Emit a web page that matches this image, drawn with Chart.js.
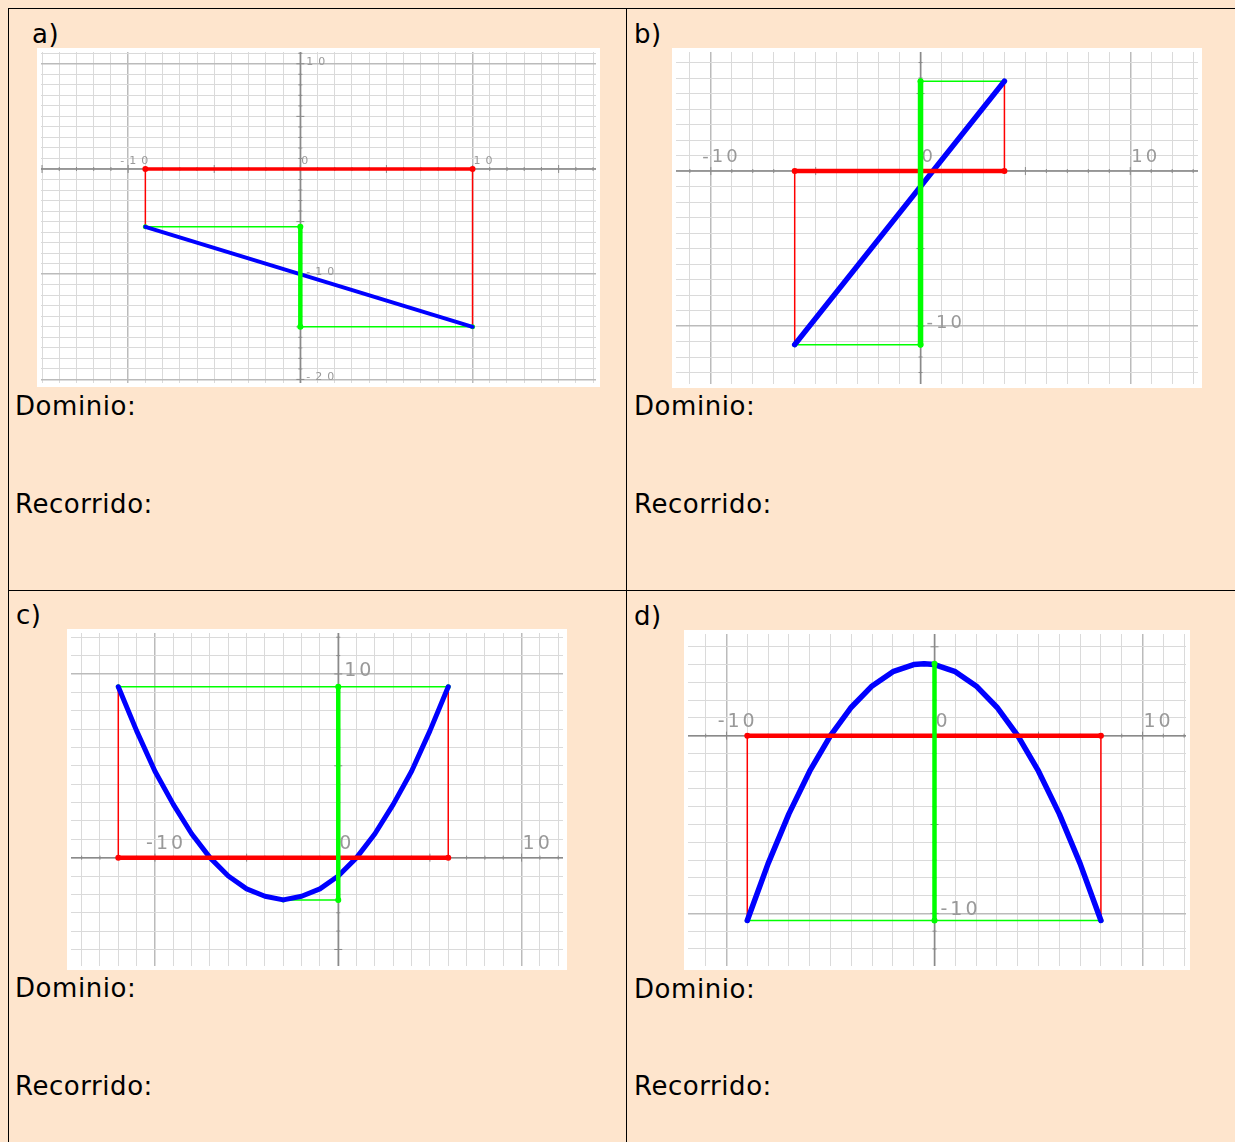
<!DOCTYPE html>
<html>
<head>
<meta charset="utf-8">
<title>Dominio y recorrido</title>
<script src="https://cdn.jsdelivr.net/npm/chart.js@4.4.1/dist/chart.umd.min.js"></script>
<style>
    html, body { margin: 0; padding: 0; }
    body {
        width: 1235px; height: 1142px; position: relative; overflow: hidden;
        background: #fee5cd; color: #000;
        font-family: "DejaVu Sans", Verdana, sans-serif;
    }
    .rule { position: absolute; background: #000; }
    .txt { position: absolute; font-size: 26px; line-height: 26px; white-space: nowrap; letter-spacing: 0.55px; }
    canvas { position: absolute; background: #fff; }
</style>
</head>
<body>
<!-- table lines -->
<div class="rule" style="left:8px;top:8px;width:1227px;height:1px"></div>
<div class="rule" style="left:8px;top:590px;width:1227px;height:1px"></div>
<div class="rule" style="left:8px;top:8px;width:1px;height:1134px"></div>
<div class="rule" style="left:626px;top:8px;width:1px;height:1134px"></div>

<div class="txt" style="left:32px;top:21px">a)</div>
<div class="txt" style="left:634px;top:21px">b)</div>
<div class="txt" style="left:16px;top:602px">c)</div>
<div class="txt" style="left:634px;top:603px">d)</div>

<div class="txt" style="left:15px;top:393px">Dominio:</div>
<div class="txt" style="left:15px;top:491px">Recorrido:</div>
<div class="txt" style="left:634px;top:393px">Dominio:</div>
<div class="txt" style="left:634px;top:491px">Recorrido:</div>
<div class="txt" style="left:15px;top:975px">Dominio:</div>
<div class="txt" style="left:15px;top:1073px">Recorrido:</div>
<div class="txt" style="left:634px;top:976px">Dominio:</div>
<div class="txt" style="left:634px;top:1073px">Recorrido:</div>

<canvas id="graf-a" width="563" height="339" style="left:37px;top:48px"></canvas>
<canvas id="graf-b" width="530" height="340" style="left:672px;top:48px"></canvas>
<canvas id="graf-c" width="500" height="341" style="left:67px;top:629px"></canvas>
<canvas id="graf-d" width="506" height="340" style="left:684px;top:630px"></canvas>

<script>
// a) recta decreciente
const aX = [-9, 10];
const aY = [-5.5, -15];
// b) recta creciente
const bX = [-6, 4];
const bY = [-11.2, 5.8];
// c) parábola abierta hacia arriba
const cX = [-12, -11, -10, -9, -8, -7, -6, -5, -4, -3, -2, -1, 0, 1, 2, 3, 4, 5, 6];
const cY = [9.3, 6.9, 4.7, 2.9, 1.3, 0, -1, -1.7, -2.1, -2.3, -2.1, -1.7, -1, 0, 1.3, 2.9, 4.7, 6.9, 9.3];
// d) parábola abierta hacia abajo
const dX = [-9, -8, -7, -6, -5, -4, -3, -2, -1, -0.5, 0, 1, 2, 3, 4, 5, 6, 7, 8];
const dY = [-10.4, -7.2, -4.4, -2, 0, 1.6, 2.8, 3.6, 4, 4.05, 4, 3.6, 2.8, 1.6, 0, -2, -4.4, -7.2, -10.4];

// numbers written on the axes
const aXLabels = [-10, 0, 10];
const aYLabels = [10, -10, -20];
const bXLabels = [-10, 0, 10];
const bYLabels = [-10];
const cXLabels = [-10, 0, 10];
const cYLabels = [10];
const dXLabels = [-10, 0, 10];
const dYLabels = [-10];

const BLUE = '#0000ff', RED = '#ff0000', GREEN = '#00ff00';

// axes, small ticks and axis numbers, drawn under the datasets
const ejesPlugin = {
    id: 'ejes',
    beforeDatasetsDraw(chart, args, opts) {
        const ctx = chart.ctx;
        const area = chart.chartArea;
        const sx = chart.scales.x, sy = chart.scales.y;
        const x0 = sx.getPixelForValue(0), y0 = sy.getPixelForValue(0);
        ctx.save();
        ctx.strokeStyle = '#8a8a8a';
        ctx.lineWidth = 1.5;
        ctx.beginPath();
        ctx.moveTo(area.left, y0); ctx.lineTo(area.right, y0);
        ctx.moveTo(x0, area.top); ctx.lineTo(x0, area.bottom);
        ctx.stroke();

        ctx.lineWidth = 1;
        ctx.beginPath();
        for (let u = Math.ceil(sx.min); u <= sx.max; u++) {
            const p = sx.getPixelForValue(u), h = u % 5 === 0 ? 4 : 2;
            ctx.moveTo(p, y0 - h); ctx.lineTo(p, y0 + h);
        }
        for (let u = Math.ceil(sy.min); u <= sy.max; u++) {
            const p = sy.getPixelForValue(u), h = u % 5 === 0 ? 4 : 2;
            ctx.moveTo(x0 - h, p); ctx.lineTo(x0 + h, p);
        }
        ctx.stroke();

        ctx.fillStyle = '#999';
        ctx.font = opts.size + 'px "DejaVu Sans"';
        ctx.letterSpacing = opts.spacing + 'px';
        ctx.textAlign = 'left';
        ctx.textBaseline = 'alphabetic';
        const minus = ctx.measureText('-').width;
        opts.xLabels.forEach(v => {
            const p = sx.getPixelForValue(v);
            ctx.fillText(String(v), p + 1 - (v < 0 ? minus : 0), y0 - opts.xGap);
        });
        opts.yLabels.forEach(v => {
            const p = sy.getPixelForValue(v);
            ctx.fillText(String(v), x0 + 6, p + opts.yGap);
        });
        ctx.restore();
    }
};

// x extent of a guide line at a given level, always reaching the y axis
function spanAt(xs, ys, level) {
    const at = xs.filter((x, i) => ys[i] === level);
    return [...new Set([Math.min(0, ...at), ...at, 0, Math.max(0, ...at)])].sort((a, b) => a - b);
}

function seg(points, color, width, radius) {
    return {
        data: points, showLine: true, borderColor: color, backgroundColor: color,
        borderWidth: width, pointRadius: radius, pointBorderWidth: 0, pointHoverRadius: 0,
        borderCapStyle: 'round', borderJoinStyle: 'round', tension: 0
    };
}

function makePanel(id, xs, ys, xLabels, yLabels, view, st) {
    const n = xs.length;
    const yMax = Math.max(...ys), yMin = Math.min(...ys);
    const topSpan = spanAt(xs, ys, yMax), botSpan = spanAt(xs, ys, yMin);

    const datasets = [
        // recorrido (range) on the y axis
        seg([{ x: 0, y: yMin }, { x: 0, y: yMax }], GREEN, st.green, 3),
        // dominio (domain) on the x axis
        seg([{ x: xs[0], y: 0 }, { x: xs[n - 1], y: 0 }], RED, st.red, 3),
        // the function itself
        seg(xs.map((x, i) => ({ x: x, y: ys[i] })), BLUE, st.blue, 0),
        // thin guide lines
        seg(topSpan.map(x => ({ x: x, y: yMax })), GREEN, 1.5, 2.5),
        seg(botSpan.map(x => ({ x: x, y: yMin })), GREEN, 1.5, 2.5),
        seg([{ x: xs[0], y: 0 }, { x: xs[0], y: ys[0] }], RED, 1.5, 0),
        seg([{ x: xs[n - 1], y: 0 }, { x: xs[n - 1], y: ys[n - 1] }], RED, 1.5, 0)
    ];

    const grid = {
        drawTicks: false,
        color: c => (c.tick && c.tick.value % 10 === 0) ? '#bbbbbb' : '#dadada',
        lineWidth: c => (c.tick && c.tick.value % 10 === 0) ? 1.5 : 1
    };
    const ticks = { display: false, stepSize: 1, includeBounds: false, maxTicksLimit: 200 };

    new Chart(document.getElementById(id), {
        type: 'scatter',
        data: { datasets: datasets },
        options: {
            responsive: false,
            animation: false,
            events: [],
            layout: { padding: 4 },
            scales: {
                x: { type: 'linear', min: view.xMin, max: view.xMax, ticks: ticks, grid: grid, border: { display: false } },
                y: { type: 'linear', min: view.yMin, max: view.yMax, ticks: ticks, grid: grid, border: { display: false } }
            },
            plugins: {
                legend: { display: false },
                tooltip: { enabled: false },
                ejes: {
                    xLabels: xLabels, yLabels: yLabels,
                    size: st.size, spacing: st.spacing, xGap: st.xGap, yGap: st.yGap
                }
            }
        },
        plugins: [ejesPlugin]
    });
}

document.addEventListener('DOMContentLoaded', () => {
    makePanel('graf-a', aX, aY, aXLabels, aYLabels,
        { xMin: -15.06, xMax: 17.17, yMin: -20.34, yMax: 11.12 },
        { blue: 4, red: 3.5, green: 4.5, size: 11, spacing: 5, xGap: 5, yGap: 1 });
    makePanel('graf-b', bX, bY, bXLabels, bYLabels,
        { xMin: -11.66, xMax: 13.23, yMin: -13.74, yMax: 7.68 },
        { blue: 5.5, red: 4.5, green: 5.5, size: 18, spacing: 3, xGap: 9, yGap: 2 });
    makePanel('graf-c', cX, cY, cXLabels, cYLabels,
        { xMin: -14.58, xMax: 12.26, yMin: -5.9, yMax: 12.23 },
        { blue: 5, red: 4.5, green: 4.5, size: 19, spacing: 3, xGap: 9, yGap: 2 });
    makePanel('graf-d', dX, dY, dXLabels, dYLabels,
        { xMin: -11.85, xMax: 12.09, yMin: -12.96, yMax: 5.72 },
        { blue: 5.5, red: 4.5, green: 4.5, size: 19, spacing: 3, xGap: 9, yGap: 2 });
});
</script>
</body>
</html>
